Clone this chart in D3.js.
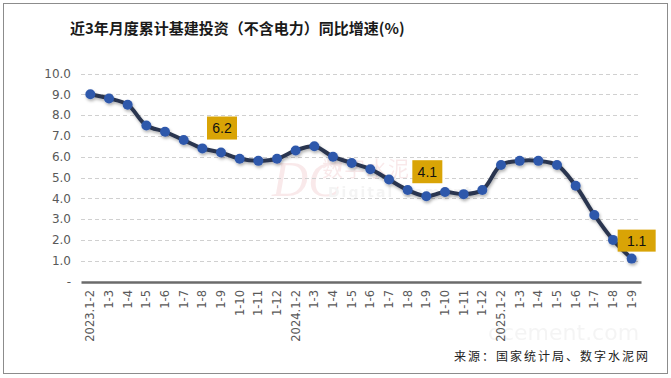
<!DOCTYPE html>
<html><head><meta charset="utf-8">
<script src="https://cdn.jsdelivr.net/npm/d3@7/dist/d3.min.js"></script>
<style>
html,body{margin:0;padding:0;background:#fff;}
svg{display:block;}
</style></head>
<body>
<svg id="c" width="671" height="378"></svg>
<script>
const categories = ["2023.1-2","1-3","1-4","1-5","1-6","1-7","1-8","1-9","1-10","1-11","1-12",
  "2024.1-2","1-3","1-4","1-5","1-6","1-7","1-8","1-9","1-10","1-11","1-12",
  "2025.1-2","1-3","1-4","1-5","1-6","1-7","1-8","1-9"];
const values = [9.0,8.8,8.5,7.5,7.2,6.8,6.4,6.2,5.9,5.8,5.9,
  6.3,6.5,6.0,5.7,5.4,4.9,4.4,4.1,4.3,4.2,4.4,
  5.6,5.8,5.8,5.6,4.6,3.2,2.0,1.1];
const yTicks = [0,1,2,3,4,5,6,7,8,9,10];
const labeledIdx = [7,18,29];
const title = "近3年月度累计基建投资（不含电力）同比增速(%)";
const source = "来源：国家统计局、数字水泥网";

const svg = d3.select("#c");
// outer frame
svg.append("rect").attr("x",3.5).attr("y",3.5).attr("width",664).attr("height",370)
  .attr("fill","#fff").attr("stroke","#8c8c8c").attr("stroke-width",1);

const x = d3.scaleBand().domain(d3.range(categories.length)).range([81,641]);
const y = d3.scaleLinear().domain([0,10]).range([281.5,73.5]);
const cx = i => x(i) + x.bandwidth()/2;

// watermark (faint)
const wm = svg.append("g").attr("opacity",0.1).attr("fill","#c8323c");
wm.append("text").attr("x",272).attr("y",196).attr("font-family","Liberation Serif").attr("font-style","italic")
  .attr("font-size",50).text("DC");
wm.append("text").attr("x",322).attr("y",176).attr("font-family","Noto Sans CJK SC").attr("font-size",21)
  .attr("letter-spacing",1).text("数字水泥");
wm.append("text").attr("x",328).attr("y",197).attr("font-family","DejaVu Sans").attr("font-weight","bold")
  .attr("font-size",14).attr("fill","#999").attr("letter-spacing",2).text("Digital Cement");
wm.append("text").attr("x",488).attr("y",340).attr("font-family","DejaVu Sans")
  .attr("font-size",22).attr("fill","#999").text("dcement.com");

// title
svg.append("text").attr("x",70).attr("y",34).attr("font-family","Noto Sans CJK SC")
  .attr("font-weight","bold").attr("font-size",15).attr("fill","#1a1a1a").text(title);

// gridlines
svg.append("g").selectAll("line").data(yTicks.filter(d=>d>0)).join("line")
  .attr("x1",81).attr("x2",641).attr("y1",d=>Math.round(y(d))+0.5).attr("y2",d=>Math.round(y(d))+0.5)
  .attr("stroke","#d0d0d0").attr("stroke-width",1).attr("stroke-dasharray","4,3");

// y axis labels
const yAxis = d3.axisLeft(y).tickValues(yTicks).tickSize(0).tickPadding(10)
  .tickFormat(d=> d===0 ? "-" : d3.format(".1f")(d));
const ya = svg.append("g").attr("transform","translate(81,0)").call(yAxis);
ya.select(".domain").remove();
ya.selectAll("text").attr("font-family","DejaVu Sans").attr("font-size",12).attr("fill","#595959");

// x axis
const xAxis = d3.axisBottom(x).tickSize(0).tickPadding(0).tickFormat(i=>categories[i]);
const xa = svg.append("g").attr("transform","translate(0,282)").call(xAxis);
xa.select(".domain").attr("stroke","#6b6b6b").attr("stroke-width",2.5);
xa.selectAll("text").attr("font-family","DejaVu Sans").attr("font-size",11.5).attr("fill","#595959")
  .attr("text-anchor","end").attr("dy","0.35em")
  .attr("transform","translate(0,8) rotate(-90)").attr("x",0).attr("y",0);

// shadow filter
const defs = svg.append("defs");
const f = defs.append("filter").attr("id","sh").attr("x","-10%").attr("y","-10%").attr("width","120%").attr("height","130%");
f.append("feDropShadow").attr("dx",1).attr("dy",2).attr("stdDeviation",1.5).attr("flood-color","#000").attr("flood-opacity",0.3);

const line = d3.line().x((d,i)=>cx(i)).y(d=>y(d)).curve(d3.curveCatmullRom.alpha(0.5));
const g = svg.append("g").attr("filter","url(#sh)");
g.append("path").datum(values).attr("d",line).attr("fill","none")
  .attr("stroke","#2a3650").attr("stroke-width",4).attr("stroke-linejoin","round");
g.selectAll("circle").data(values).join("circle")
  .attr("cx",(d,i)=>cx(i)).attr("cy",d=>y(d)).attr("r",5).attr("fill","#2f58ab");

// data labels
const lab = svg.append("g");
labeledIdx.forEach(i=>{
  const v = values[i];
  let bx, by, w, h;
  if (i === categories.length-1) { w=38; h=22; bx=cx(i)-14; by=y(v)-29; }
  else { w=30; h=23; bx=cx(i)-14; by=y(v)-36; }
  lab.append("rect").attr("x",bx).attr("y",by).attr("width",w).attr("height",h).attr("fill","#d9a406");
  lab.append("text").attr("x",bx+w/2).attr("y",by+h/2).attr("dy","0.36em").attr("text-anchor","middle")
    .attr("font-family","Liberation Sans").attr("font-size",14).attr("fill","#111").text(d3.format(".1f")(v));
});

// source
svg.append("text").attr("x",650).attr("y",361).attr("text-anchor","end").attr("font-family","Noto Sans CJK SC")
  .attr("font-size",12).attr("letter-spacing",2).attr("fill","#222").text(source);
</script>
</body></html>
